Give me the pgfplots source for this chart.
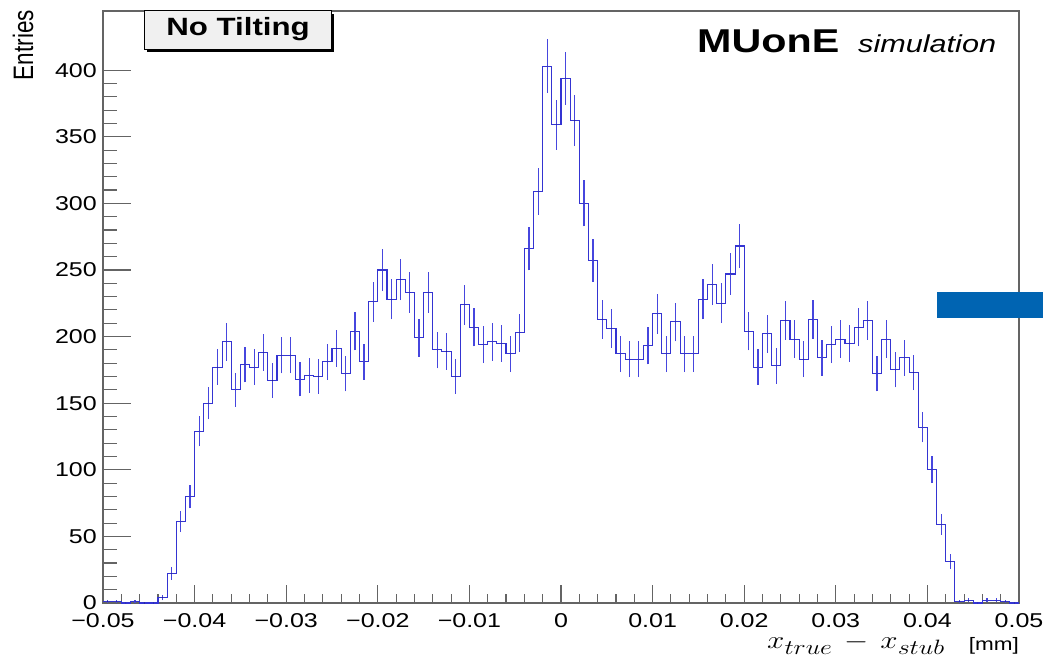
\documentclass[border=0pt]{standalone}
\usepackage{pgfplots}
\pgfplotsset{compat=1.18}
\usepackage{pgfplotstable}
\usepackage{graphicx}
\usepackage{fontspec}
\setmainfont{Liberation Sans}[FakeStretch=1.25]
\newfontfamily\plainsans{Liberation Sans}
\definecolor{histblue}{RGB}{52,52,210}
\definecolor{errblue}{RGB}{70,70,222}
\definecolor{framegray}{RGB}{100,100,100}
\definecolor{boxfill}{RGB}{240,240,240}
\definecolor{rectblue}{RGB}{0,100,178}

\pgfplotstableread{
lo val
-0.050 1
-0.049 1
-0.048 0
-0.047 1
-0.046 0
-0.045 0
-0.044 4
-0.043 22
-0.042 61
-0.041 80
-0.040 129
-0.039 150
-0.038 177
-0.037 196
-0.036 160
-0.035 179
-0.034 177
-0.033 188
-0.032 167
-0.031 186
-0.030 186
-0.029 168
-0.028 171
-0.027 170
-0.026 181
-0.025 191
-0.024 172
-0.023 204
-0.022 181
-0.021 226
-0.020 250
-0.019 228
-0.018 243
-0.017 233
-0.016 199
-0.015 233
-0.014 190
-0.013 189
-0.012 170
-0.011 224
-0.010 207
-0.009 194
-0.008 196
-0.007 195
-0.006 187
-0.005 203
-0.004 266
-0.003 309
-0.002 403
-0.001 359
0.000 394
0.001 362
0.002 300
0.003 257
0.004 213
0.005 206
0.006 187
0.007 183
0.008 183
0.009 193
0.010 217
0.011 187
0.012 211
0.013 187
0.014 187
0.015 228
0.016 239
0.017 225
0.018 247
0.019 268
0.020 204
0.021 177
0.022 202
0.023 178
0.024 212
0.025 198
0.026 183
0.027 213
0.028 184
0.029 194
0.030 198
0.031 195
0.032 207
0.033 212
0.034 172
0.035 198
0.036 175
0.037 184
0.038 173
0.039 132
0.040 100
0.041 59
0.042 31
0.043 1
0.044 2
0.045 0
0.046 2
0.047 2
0.048 1
0.049 0
0.050 0
}\histdata

\begin{document}
\begin{tikzpicture}[x=1pt,y=1pt]
\path[use as bounding box] (0,0) rectangle (1043,661);
\fill[white] (0,0) rectangle (1043,661);
\begin{axis}[
  at={(103pt,58pt)}, anchor=south west,
  scale only axis, width=916pt, height=592pt,
  xmin=-0.05, xmax=0.05, ymin=0, ymax=444.4,
  axis line style={draw=framegray, line width=1.1pt},
  tick style={draw=framegray, line width=1.1pt},
  tick align=inside,
  xtick pos=bottom, ytick pos=left,
  xtick={-0.05,-0.04,-0.03,-0.02,-0.01,0,0.01,0.02,0.03,0.04,0.05},
  xticklabels={−0.05,−0.04,−0.03,−0.02,−0.01,0,0.01,0.02,0.03,0.04,0.05},
  ytick={0,50,100,150,200,250,300,350,400},
  minor x tick num=4, minor y tick num=4,
  major tick length=27.5pt, minor tick length=13.7pt,
  xtick style={/pgfplots/major tick length=17.8pt, /pgfplots/minor tick length=8.9pt},
  /pgf/number format/assume math mode=true,
  xticklabel style={font=\fontsize{20}{20}\selectfont, inner sep=0pt, anchor=north, yshift=-10.5pt},
  yticklabel style={font=\fontsize{20}{20}\selectfont, inner sep=0pt, anchor=east, xshift=-6pt},
  scaled x ticks=false,
]
\addplot[const plot, histblue, line width=1.1pt, mark=none] table[x=lo, y=val] {\histdata};
% error bars (sqrt N) drawn at each bin centre
\addplot[scatter, only marks, mark=*, mark size=0.01pt, forget plot,
  mark options={draw=none, fill=none},
  visualization depends on={\thisrow{val} \as \errcnt},
  scatter/@pre marker code/.code={%
    \pgfmathsetmacro\errl{sqrt(\errcnt)*592/444.4}%
    \draw[errblue, line width=1.2pt] (0pt,-\errl pt) -- (0pt,\errl pt);%
  },
  scatter/@post marker code/.code={}]
  table[x expr=\thisrow{lo}+0.0005, y=val] {\histdata};
\end{axis}
% No Tilting box
\fill[black] (147,608.7) rectangle (334,647);
\filldraw[fill=boxfill, draw=black, line width=1pt] (144,611.7) rectangle (331,650);
\node[anchor=base, inner sep=0pt] at (238,625) {\fontsize{25}{25}\selectfont\bfseries No Tilting};
% MUonE simulation
\node[anchor=base west, inner sep=0pt] at (697,608) {\fontsize{33}{33}\selectfont\bfseries MUonE};
\node[anchor=base west, inner sep=0pt] at (858,608) {\fontsize{24.5}{24.5}\selectfont\itshape simulation};
% Entries
\node[rotate=90, anchor=base east, inner sep=0pt] at (33,651) {\scalebox{1}[1.25]{\plainsans\fontsize{22.5}{22.5}\selectfont Entries}};
% x label
\node[anchor=base west, inner sep=0pt] at (767,13) {\scalebox{1.25}[1]{\fontsize{27.6}{27.6}\selectfont $x$\raisebox{-6pt}{\fontsize{22.6}{22.6}\selectfont$true$}\hspace{9.7pt}$-$\hspace{9.7pt}$x$\raisebox{-6pt}{\fontsize{22.6}{22.6}\selectfont$stub$}}};
\node[anchor=base east, inner sep=0pt] at (1019,11) {\fontsize{18}{18}\selectfont [mm]};
% blue rectangle
\fill[rectblue] (937.3,343.3) rectangle (1043,369.3);
\end{tikzpicture}
\end{document}
